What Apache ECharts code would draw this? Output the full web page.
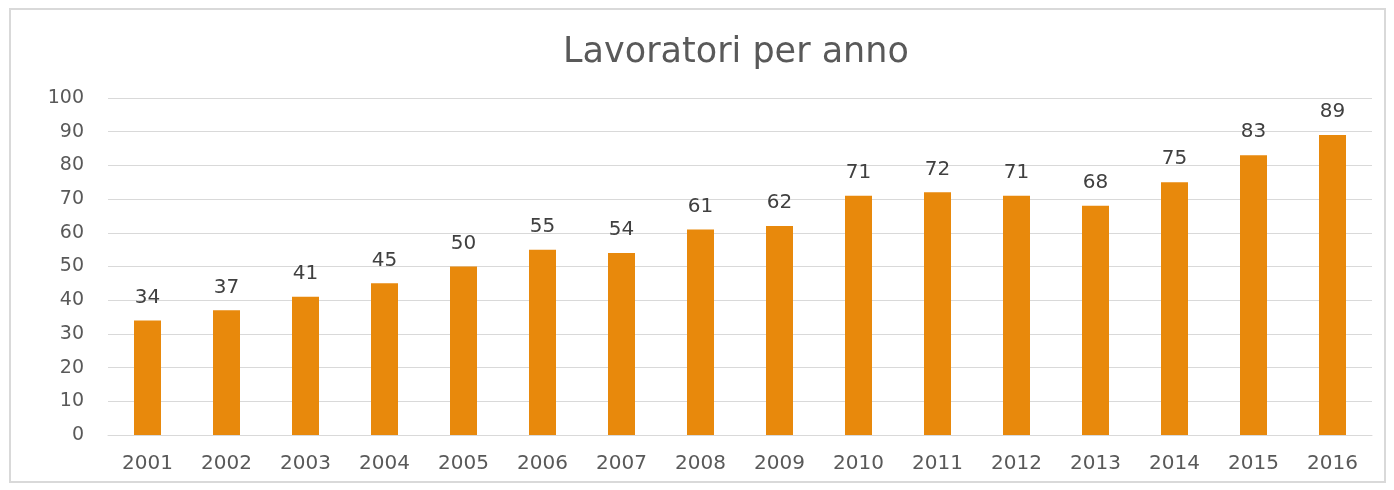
<!DOCTYPE html>
<html><head><meta charset="utf-8">
<script src="https://cdn.jsdelivr.net/npm/echarts@6/dist/echarts.min.js"></script>
<style>html,body{margin:0;padding:0;background:#fff}#c{width:1394px;height:490px}</style>
</head><body><div id="c"></div>
<script>
const years = ['2001','2002','2003','2004','2005','2006','2007','2008','2009','2010','2011','2012','2013','2014','2015','2016'];
const workers = [34,37,41,45,50,55,54,61,62,71,72,71,68,75,83,89];
const yTicks = [0,10,20,30,40,50,60,70,80,90,100];
const titleText = 'Lavoratori per anno';

const chart = echarts.init(document.getElementById('c'));
chart.setOption({
  animation:false,
  backgroundColor:'#ffffff',
  graphic:[{type:'rect',shape:{x:10,y:9,width:1375,height:473},style:{fill:'none',stroke:'#d9d9d9',lineWidth:2},silent:true}],
  title:{text:titleText,left:731,top:30,textAlign:'center',textStyle:{fontFamily:'DejaVu Sans',fontSize:35,fontWeight:'normal',color:'#595959'}},
  grid:{left:108,right:22,top:98,bottom:55,containLabel:false},
  xAxis:{type:'category',data:years,
    axisLine:{lineStyle:{color:'#d9d9d9',width:1}},axisTick:{show:false},
    axisLabel:{fontFamily:'DejaVu Sans',fontSize:20,color:'#595959',margin:19}},
  yAxis:{type:'value',min:yTicks[0],max:yTicks[yTicks.length-1],interval:10,
    axisLine:{show:false},axisTick:{show:false},
    splitLine:{lineStyle:{color:'#d9d9d9',width:1}},
    axisLabel:{fontFamily:'DejaVu Sans',fontSize:19,color:'#595959',margin:24}},
  series:[{type:'bar',data:workers,barWidth:27,
    itemStyle:{color:'#E8890C'},
    label:{show:true,position:'top',distance:13,fontFamily:'DejaVu Sans',fontSize:20,color:'#404040'}}]
});
</script></body></html>
